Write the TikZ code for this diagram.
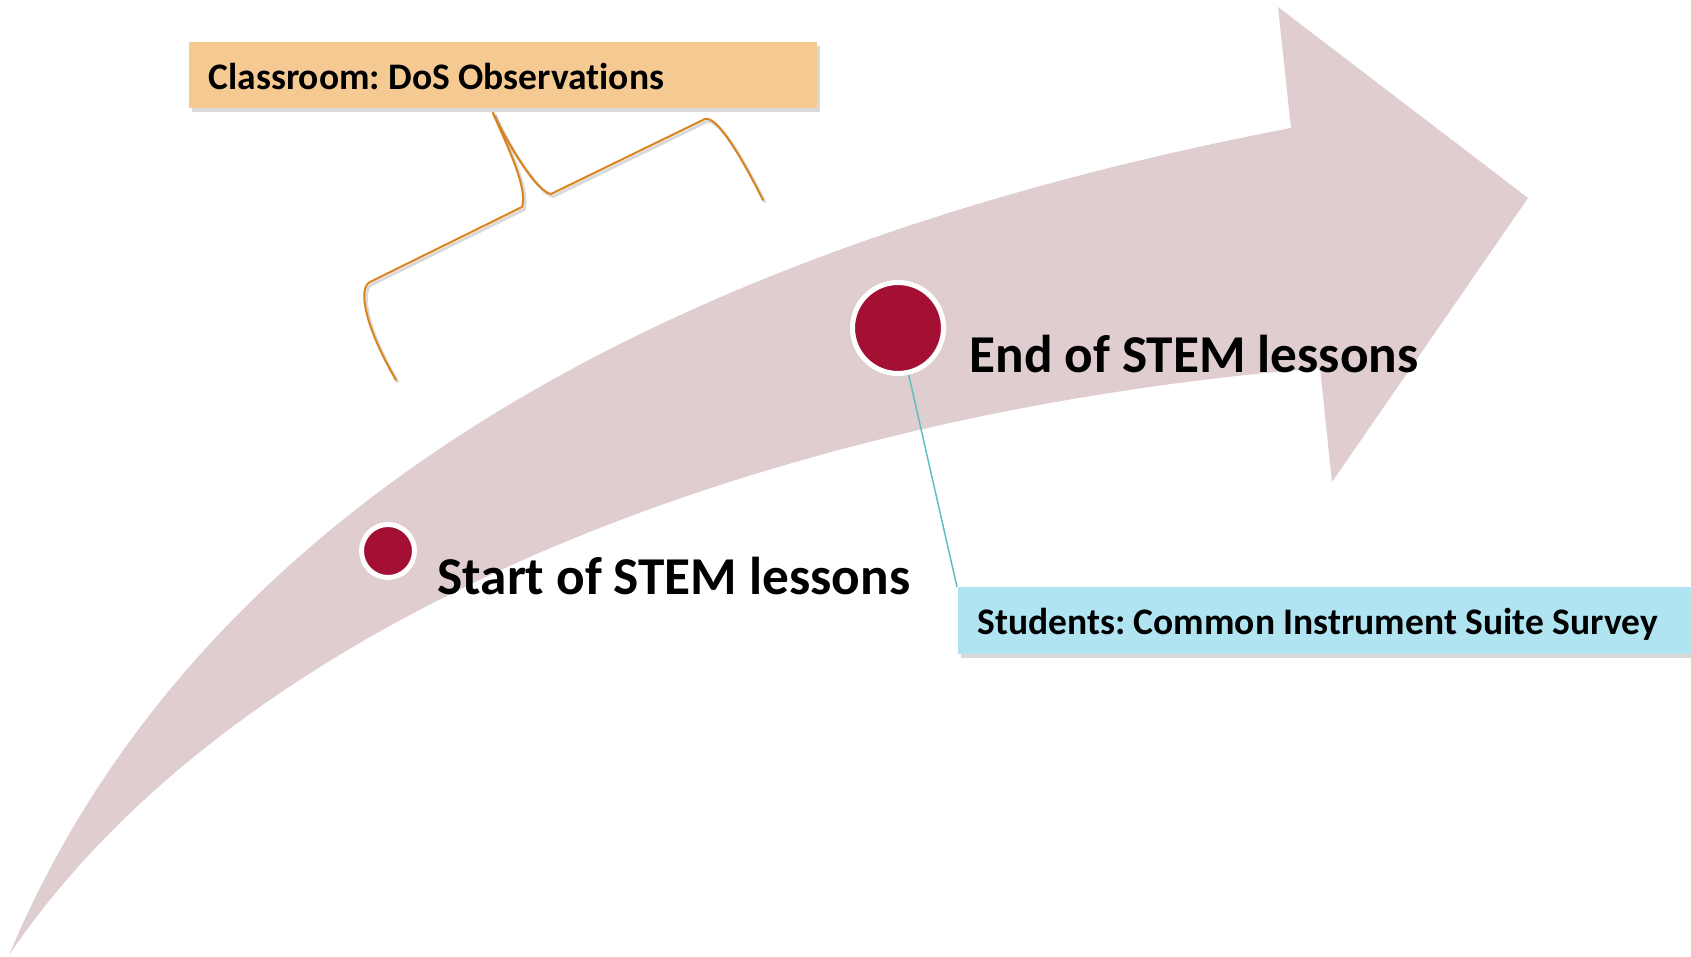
\documentclass[tikz,border=0pt]{standalone}
\usepackage{fontspec}
\setmainfont{Carlito}[Ligatures=NoCommon]
\usetikzlibrary{shadows}
\definecolor{arrowpink}{HTML}{E0CDCF}
\definecolor{dotred}{HTML}{A31034}
\definecolor{peach}{HTML}{F5C992}
\definecolor{skyblue}{HTML}{B0E4F0}
\definecolor{braceor}{HTML}{D9841E}
\definecolor{tealline}{HTML}{5FBFBF}
\frenchspacing
\begin{document}
\begin{tikzpicture}[x=0.4pt,y=-0.4pt,
  labelbox/.style={rectangle, anchor=north west, inner xsep=8pt, inner ysep=0pt,
    minimum height=26.4pt, text height=13.4pt, text depth=2.4pt,
    font=\fontsize{15pt}{17pt}\selectfont\bfseries,
    drop shadow={shadow xshift=1.2pt, shadow yshift=-1.6pt, opacity=0.3}},
  bigtext/.style={anchor=base west, inner sep=0pt, font=\fontsize{21.3pt}{25pt}\selectfont\bfseries},
  dot/.style={circle, fill=dotred, draw=white, line width=2pt, inner sep=0pt,
    drop shadow={shadow xshift=0.3pt, shadow yshift=-0.3pt, opacity=0.2}},
  bracepath/.style={draw=braceor, line width=0.8pt, line join=round, line cap=round,
    preaction={draw=black, opacity=0.15, line width=1.2pt, transform canvas={shift={(0.8pt,-1pt)}}}},
  connector/.style={draw=tealline, line width=0.6pt}]

\useasboundingbox (0,0) rectangle (1691,957);

% curved arrow
\fill[arrowpink] (9,955) .. controls (200,500) and (680,245) .. (1291,128)
  -- (1278,7) -- (1528,198) -- (1332,482) -- (1320,368)
  .. controls (800,410) and (250,600) .. (9,955) -- cycle;

% brace
\coordinate (bracetop) at (493,113);
\draw[bracepath] (bracetop) .. controls (508,148) and (528,188) .. (522,207)
  -- (370,282) .. controls (358,288) and (364,325) .. (396,380);
\draw[bracepath] (bracetop) .. controls (512,152) and (538,192) .. (551,194)
  -- (705,119) .. controls (716,116) and (738,150) .. (763,200);

% boxes
\node[labelbox, fill=peach] (classroom) at (188,42) {\makebox[235.2pt][l]{Classroom: DoS Observations}};
\node[labelbox, fill=skyblue] (students) at (957,587) {\makebox[277.6pt][l]{Students: Common Instrument Suite Survey}};

% dots
\node[dot, minimum size=21.2pt] (startdot) at (388,551) {};
\node[dot, minimum size=36.4pt] (enddot) at (898,328) {};
\draw[connector] (enddot) -- (students.north west);

% labels
\node[bigtext] (startlbl) at (437,595) {Start of STEM lessons};
\node[bigtext] (endlbl) at (969,373) {End of STEM lessons};
\end{tikzpicture}
\end{document}
